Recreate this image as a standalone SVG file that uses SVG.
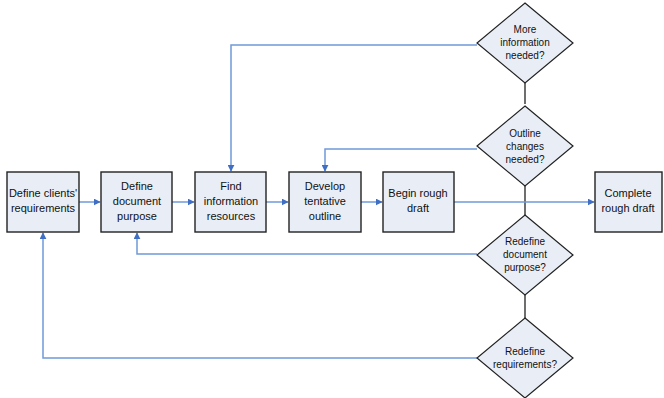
<svg xmlns="http://www.w3.org/2000/svg" width="664" height="398" viewBox="0 0 664 398">
<style>
.box{fill:#e9eef6;stroke:#222;stroke-width:1.4}
.dia{fill:#e9eef6;stroke:#222;stroke-width:1.2}
.t{font-family:"Liberation Sans",Arial,sans-serif;font-size:11px;fill:#111;text-anchor:middle}
.td{font-family:"Liberation Sans",Arial,sans-serif;font-size:10px;fill:#111;text-anchor:middle}
.c{fill:none;stroke:#6f9ad8;stroke-width:1.5}
.k{fill:none;stroke:#222;stroke-width:1.3}
</style>
<defs>
<marker id="ah" viewBox="0 0 10 10" refX="9" refY="5" markerWidth="7" markerHeight="7" markerUnits="userSpaceOnUse" orient="auto">
<path d="M0,0 L10,5 L0,10 z" fill="#3f6fc4"/>
</marker>
</defs>
<rect width="664" height="398" fill="#fff"/>
<g id="connectors">
<path class="k" d="M525,83 V104 M525,186 V215 M525,295 V318"/>
<path class="c" d="M79,202 H100" marker-end="url(#ah)"/>
<path class="c" d="M172,202 H194" marker-end="url(#ah)"/>
<path class="c" d="M266,202 H288" marker-end="url(#ah)"/>
<path class="c" d="M361,202 H382" marker-end="url(#ah)"/>
<path class="c" d="M454,202 H594" marker-end="url(#ah)"/>
<path class="c" d="M477,45 H231 V171" marker-end="url(#ah)"/>
<path class="c" d="M477,149 H325 V171" marker-end="url(#ah)"/>
<path class="c" d="M477,254 H137 V233" marker-end="url(#ah)"/>
<path class="c" d="M477,358 H43 V233" marker-end="url(#ah)"/>
</g>
<g id="n1"><rect class="box" x="7" y="172" width="72" height="60"/><text class="t" x="43" y="197">Define clients'</text><text class="t" x="43" y="212">requirements</text></g>
<g id="n2"><rect class="box" x="101" y="172" width="71" height="60"/><text class="t" x="137" y="190">Define</text><text class="t" x="137" y="205">document</text><text class="t" x="137" y="220">purpose</text></g>
<g id="n3"><rect class="box" x="195" y="172" width="71" height="60"/><text class="t" x="231" y="190">Find</text><text class="t" x="231" y="205">information</text><text class="t" x="231" y="220">resources</text></g>
<g id="n4"><rect class="box" x="289" y="172" width="72" height="60"/><text class="t" x="325" y="190">Develop</text><text class="t" x="325" y="205">tentative</text><text class="t" x="325" y="220">outline</text></g>
<g id="n5"><rect class="box" x="383" y="172" width="71" height="60"/><text class="t" x="418" y="197">Begin rough</text><text class="t" x="418" y="212">draft</text></g>
<g id="n6"><rect class="box" x="595" y="172" width="67" height="60"/><text class="t" x="628" y="197">Complete</text><text class="t" x="628" y="212">rough draft</text></g>
<g id="d1"><path class="dia" d="M525,3 L573,43 L525,83 L477,43 Z"/><text class="td" x="525" y="33">More</text><text class="td" x="525" y="46">information</text><text class="td" x="525" y="59">needed?</text></g>
<g id="d2"><path class="dia" d="M525,106 L573,146 L525,186 L477,146 Z"/><text class="td" x="525" y="137">Outline</text><text class="td" x="525" y="150">changes</text><text class="td" x="525" y="163">needed?</text></g>
<g id="d3"><path class="dia" d="M525,215 L573,255 L525,295 L477,255 Z"/><text class="td" x="525" y="245">Redefine</text><text class="td" x="525" y="258">document</text><text class="td" x="525" y="271">purpose?</text></g>
<g id="d4"><path class="dia" d="M525,318 L573,358 L525,398 L477,358 Z"/><text class="td" x="525" y="355">Redefine</text><text class="td" x="525" y="368">requirements?</text></g>
</svg>
